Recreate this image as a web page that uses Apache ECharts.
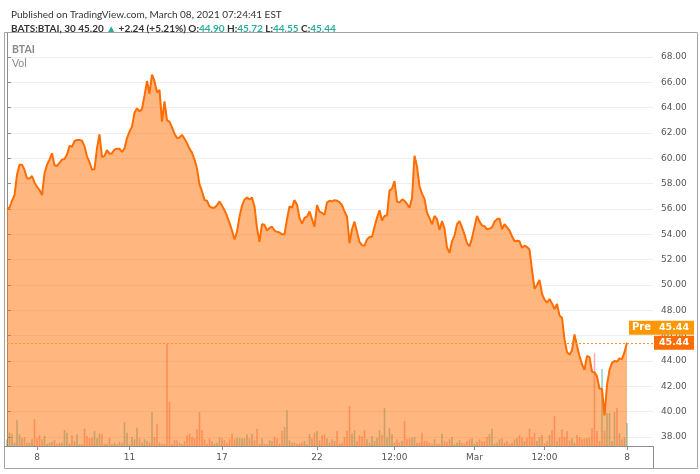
<!DOCTYPE html>
<html><head><meta charset="utf-8">
<script src="https://cdn.jsdelivr.net/npm/echarts@6/dist/echarts.min.js"></script>
<style>html,body{margin:0;padding:0;background:#fff;}#c{width:700px;height:474px;}</style>
</head><body><div id="c"></div>
<script>
// ---- data (30-min bars, BATS:BTAI) ----
const price = [
56.0,56.1,56.65,57.1,58.7,59.5,59.5,59.1,58.4,58.4,
58.6,58.1,57.75,57.5,57.1,58.8,59.5,59.9,60.4,59.45,
59.4,59.65,59.9,59.95,60.3,61.0,60.9,61.35,61.45,61.45,
61.4,60.95,60.15,59.7,59.1,59.15,60.8,61.9,60.1,60.2,
60.65,60.35,60.4,60.7,60.75,60.75,60.5,60.8,61.6,62.1,
62.5,63.6,63.95,63.7,63.9,64.95,66.1,65.1,66.6,66.1,
65.2,65.4,62.9,64.5,63.0,62.9,62.45,61.95,61.6,61.65,
61.85,61.55,61.2,60.75,60.45,59.9,59.2,57.95,57.4,56.7,
56.65,56.2,56.1,56.1,56.3,56.6,56.25,55.9,55.45,54.9,
54.3,53.6,54.2,55.4,56.25,56.75,56.9,56.75,56.9,56.2,
54.5,53.4,54.8,54.75,54.3,54.5,54.6,54.3,54.2,54.15,
54.0,54.0,55.2,56.2,56.1,56.7,56.35,55.3,54.85,55.3,
55.4,55.8,55.2,54.6,56.3,55.8,55.7,55.55,56.5,56.65,
56.6,56.7,56.65,56.55,56.3,55.8,55.4,53.3,54.4,55.0,
54.2,53.4,53.15,53.1,53.6,53.8,53.8,54.6,55.3,55.9,
55.1,55.45,55.5,57.45,57.6,58.2,56.6,56.5,56.75,56.65,
56.4,56.1,56.85,60.2,59.35,57.8,57.2,56.8,55.7,55.3,
54.8,55.45,55.2,54.35,55.05,54.45,52.95,52.55,53.45,53.9,
54.8,55.05,54.55,54.0,53.3,53.05,53.7,54.6,55.45,55.0,
54.7,54.65,54.4,54.45,54.55,55.0,55.2,55.25,54.4,54.8,
54.55,54.3,53.85,53.45,53.5,53.45,52.95,53.1,53.0,52.8,
51.2,49.7,50.0,50.4,49.3,48.85,48.6,48.9,48.55,48.1,
48.5,47.6,47.4,45.7,44.7,44.5,44.85,46.1,45.2,44.4,
43.75,43.3,44.4,44.3,43.15,43.1,42.8,41.8,41.8,39.7,
42.1,43.3,43.85,44.0,43.95,44.2,44.15,44.7,45.44
];
const volume = [
67,133,123,33,257,117,77,90,33,33,
67,267,77,110,67,100,23,33,43,60,
23,33,33,160,133,23,110,50,117,17,
17,173,100,77,83,150,77,123,117,23,
23,77,17,33,17,40,33,240,133,17,
90,67,183,77,33,67,50,33,340,90,
223,33,23,23,1023,440,17,60,57,33,
17,50,110,123,90,77,167,340,160,67,
23,77,50,23,33,90,77,57,33,67,
123,67,83,77,77,77,117,77,123,57,
173,23,77,23,23,57,50,90,77,23,
150,190,357,57,33,33,23,23,33,50,
17,117,77,133,150,57,110,117,77,33,
67,50,150,23,33,90,150,400,
123,157,50,107,97,157,67,33,97,50,
83,160,110,383,83,177,117,33,67,33,
50,250,67,77,83,90,33,33,133,50,
50,33,17,67,23,23,123,50,43,67,
90,17,33,57,33,23,50,67,77,23,
43,67,50,50,90,117,173,23,33,67,
77,33,50,23,33,67,83,110,83,50,
83,173,90,133,50,90,110,23,50,110,
157,300,50,83,167,90,150,57,77,33,
110,90,67,77,77,83,177,930,150,50,
770,150,330,330,50,340,380,130,67,90,230
];
const xTickIdx = [12, 49, 86, 124, 155, 187, 215, 248];
const xTickLabels = ['8', '11', '17', '22', '12:00', 'Mar', '12:00', '8'];
const yTicks = [38,40,42,44,46,48,50,52,54,56,58,60,62,64,66,68];
const lastPrice = 45.44;
const preLabel = 'Pre';

// ---- chart ----
const AX_FONT = 'DejaVu Sans';
const HD_FONT = 'Lato';
const TEAL = '#2eac9a';
const chart = echarts.init(document.getElementById('c'), null, {renderer: 'canvas'});

const priceData = price.map((v, i) => [i, v]);
const volData = volume.map((v, i) => {
  const up = i === 0 ? true : price[i] >= price[i - 1];
  return {value: [i, v], itemStyle: {color: up ? 'rgba(38,166,154,0.5)' : 'rgba(239,83,80,0.45)'}};
});

const gridBox = {left: 7, right: 47, top: 33, bottom: 28};
const option = {
  animation: false,
  backgroundColor: '#fff',
  title: [
    {text: 'Published on TradingView.com, March 08, 2021 07:24:41 EST', left: 6, top: 5,
     textStyle: {fontFamily: HD_FONT, fontSize: 10, fontWeight: 'normal', color: '#333'}},
    {text: '{b|BATS:BTAI, 30} {n|45.20} {g|▲} {n|+2.24 (+5.21%)} {b|O:}{g|44.90} {b|H:}{g|45.72} {b|L:}{g|44.55} {b|C:}{g|45.44}',
     left: 6, top: 19,
     textStyle: {fontFamily: HD_FONT, fontSize: 10, rich: {
       b: {fontFamily: HD_FONT, fontSize: 10, fontWeight: 'bold', color: '#333'},
       n: {fontFamily: HD_FONT, fontSize: 10, color: '#333'},
       g: {fontFamily: HD_FONT, fontSize: 10, color: TEAL}
     }}}
  ],
  grid: [Object.assign({}, gridBox), Object.assign({}, gridBox)],
  xAxis: [
    {type: 'value', gridIndex: 0, min: 0, max: 258.4,
     axisLine: {show: true, lineStyle: {color: '#8c8c8c'}},
     axisTick: {show: true, customValues: xTickIdx, length: 4, lineStyle: {color: '#8c8c8c'}},
     axisLabel: {customValues: xTickIdx, margin: 7, fontFamily: AX_FONT, fontSize: 9, color: '#555',
       formatter: v => xTickLabels[xTickIdx.indexOf(Math.round(v))] || ''},
     splitLine: {show: false}},
    {type: 'value', gridIndex: 1, min: 0, max: 258.4, show: false}
  ],
  yAxis: [
    {type: 'value', gridIndex: 0, position: 'right', min: 37.29, max: 69.894,
     axisLine: {show: true, lineStyle: {color: '#8c8c8c'}},
     axisTick: {show: true, customValues: yTicks, length: 4, lineStyle: {color: '#8c8c8c'}},
     axisLabel: {customValues: yTicks, margin: 8, fontFamily: AX_FONT, fontSize: 9, color: '#555',
       formatter: v => Number(v).toFixed(2)},
     splitLine: {show: true, lineStyle: {color: '#eeeeee', width: 1}}},
    {type: 'value', gridIndex: 1, min: 0, max: 4130, show: false}
  ],
  series: [
    {type: 'bar', name: 'Vol', xAxisIndex: 1, yAxisIndex: 1, data: volData, barWidth: 1.6, z: 1, silent: true},
    {type: 'line', name: 'BTAI', xAxisIndex: 0, yAxisIndex: 0, data: priceData, symbol: 'none', z: 3,
     lineStyle: {color: '#ff6d00', width: 2},
     areaStyle: {color: '#ff6d00', opacity: 0.5},
     markLine: {silent: true, symbol: 'none', z: 4,
       lineStyle: {type: [2, 2], color: '#ff9226', width: 1},
       label: {show: true, position: 'end', distance: 1, formatter: lastPrice.toFixed(2),
         backgroundColor: '#ff6d00', color: '#fff', fontFamily: AX_FONT, fontSize: 9.5, fontWeight: 'bold',
         padding: [2, 5, 2, 5]},
       data: [{yAxis: lastPrice}]}}
  ]
};
chart.setOption(option);

// overlay labels / pane frame
const pY = chart.convertToPixel({xAxisIndex: 0, yAxisIndex: 0}, [0, lastPrice])[1];
const rightX = chart.convertToPixel({xAxisIndex: 0, yAxisIndex: 0}, [258.4, lastPrice])[0];
chart.setOption({
  graphic: [
    {type: 'rect', silent: true, z: 0, shape: {x: 4.5, y: 32.5, width: 693, height: 436},
     style: {fill: 'none', stroke: '#a3a3a3', lineWidth: 1}},
    {type: 'line', silent: true, z: 10, shape: {x1: Math.round(rightX) + 0.5, y1: 446, x2: Math.round(rightX) + 0.5, y2: 468},
     style: {stroke: '#8c8c8c', lineWidth: 1}},
    {type: 'line', silent: true, z: 10, shape: {x1: 4.5, y1: 446.5, x2: 7, y2: 446.5},
     style: {stroke: '#8c8c8c', lineWidth: 1}},
    {type: 'text', silent: true, z: 10, left: 12, top: 44,
     style: {text: 'BTAI', font: 'bold 10.5px ' + HD_FONT, fill: '#8a8a8a'}},
    {type: 'text', silent: true, z: 10, left: 12, top: 58,
     style: {text: 'Vol', font: '10.5px ' + HD_FONT, fill: '#8a8a8a'}},
    {type: 'text', silent: true, z: 20, x: rightX - 24, y: pY - 22,
     style: {text: preLabel, font: 'bold 10px ' + AX_FONT, fill: '#fff', backgroundColor: '#ff9800', padding: [2, 3, 2, 3]}},
    {type: 'text', silent: true, z: 20, x: rightX + 1, y: pY - 22,
     style: {text: lastPrice.toFixed(2), font: 'bold 9.5px ' + AX_FONT, fill: '#fff', backgroundColor: '#ff9800', padding: [2, 5, 2, 5]}}
  ]
});
</script>
</body></html>
